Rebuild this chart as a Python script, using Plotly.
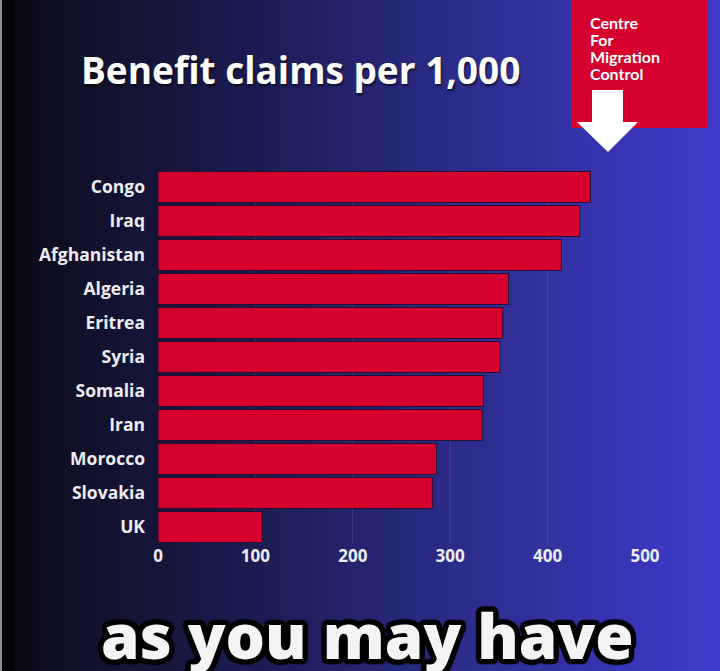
import plotly.graph_objects as go

countries = ["Congo", "Iraq", "Afghanistan", "Algeria", "Eritrea", "Syria",
             "Somalia", "Iran", "Morocco", "Slovakia", "UK"]
claims_per_1000 = [444, 433, 414, 360, 354, 351, 334, 333, 286, 282, 107]
x_ticks = [0, 100, 200, 300, 400, 500]
title_text = "Benefit claims per 1,000"
logo_lines = ["Centre", "For", "Migration", "Control"]
caption_text = "as you may have"

W, H = 720, 671
L, R, T, B = 158, 75, 170, 127
PW, PH = W - L - R, H - T - B


def px(x):
    return (x - L) / PW


def py(y):
    return (H - B - y) / PH


# background gradient stops (pixel x, rgb)
stops = [(0, (8, 8, 14)), (40, (14, 14, 30)), (150, (21, 21, 58)),
         (300, (31, 31, 94)), (450, (43, 43, 136)), (560, (50, 50, 164)),
         (650, (58, 54, 188)), (720, (63, 60, 204))]


def col_at(x):
    for (x0, c0), (x1, c1) in zip(stops, stops[1:]):
        if x0 <= x <= x1:
            t = (x - x0) / (x1 - x0)
            return "rgb(%d,%d,%d)" % tuple(round(a + (b - a) * t) for a, b in zip(c0, c1))
    return "rgb(%d,%d,%d)" % stops[-1][1]


shapes = []
step = 8
for xs in range(0, W, step):
    shapes.append(dict(type="rect", xref="paper", yref="paper", layer="below",
                       x0=px(xs), x1=px(xs + step + 1), y0=py(H), y1=py(0),
                       fillcolor=col_at(xs + step / 2), line=dict(width=0)))
shapes.append(dict(type="rect", xref="paper", yref="paper", layer="below",
                   x0=px(0), x1=px(2), y0=py(H), y1=py(0),
                   fillcolor="#8c8ca0", line=dict(width=0)))
shapes.append(dict(type="rect", xref="paper", yref="paper", layer="below",
                   x0=px(2), x1=px(14), y0=py(H), y1=py(0),
                   fillcolor="#040408", line=dict(width=0)))

# logo box
shapes.append(dict(type="rect", xref="paper", yref="paper", layer="above",
                   x0=px(571), x1=px(707), y0=py(128), y1=py(-2),
                   fillcolor="#d5002d", line=dict(width=0)))
arrow_pts = [(592, 90), (623, 90), (623, 122), (638, 122), (608, 152),
             (577, 122), (592, 122)]
path = "M " + " L ".join("%f,%f" % (px(a), py(b)) for a, b in arrow_pts) + " Z"
shapes.append(dict(type="path", xref="paper", yref="paper", layer="above",
                   path=path, fillcolor="#ffffff", line=dict(width=0)))

fig = go.Figure(go.Bar(
    x=claims_per_1000, y=countries, orientation="h",
    marker=dict(color="#d5002e", line=dict(color="rgba(30,15,45,0.9)", width=1)),
    hoverinfo="x+y",
))

outline = ", ".join("%dpx %dpx 1px #000" % (a, b) for a, b in
                    [(-4, -4), (4, -4), (-4, 4), (4, 4), (0, 5), (0, -5), (5, 0), (-5, 0),
                     (-2, 5), (2, 5), (-2, -5), (2, -5), (5, 2), (5, -2), (-5, 2), (-5, -2)])

annotations = [
    dict(text="<b>" + title_text + "</b>", xref="paper", yref="paper",
         x=px(300), y=py(69), xanchor="center", yanchor="middle", showarrow=False,
         font=dict(family="Open Sans", size=37, color="#ffffff",
                   shadow="1px 2px 2px rgba(0,0,0,0.6)")),
    dict(text=caption_text, xref="paper", yref="paper",
         x=px(367), y=py(635), xanchor="center", yanchor="middle", showarrow=False,
         font=dict(family="Open Sans", size=62, color="#f4f4f4", weight=800,
                   shadow=outline)),
]
logo_y = [22, 40, 57, 73]
for line, yy in zip(logo_lines, logo_y):
    annotations.append(dict(text="<b>" + line + "</b>", xref="paper", yref="paper",
                            x=px(588), y=py(yy), xanchor="left", yanchor="middle",
                            showarrow=False,
                            font=dict(family="Lato", size=16, color="#ffffff")))

fig.update_layout(
    width=W, height=H,
    margin=dict(l=L, r=R, t=T, b=B, pad=0),
    paper_bgcolor="#15153a", plot_bgcolor="rgba(0,0,0,0)",
    showlegend=False, bargap=0.09,
    shapes=shapes, annotations=annotations,
    xaxis=dict(range=[0, 500], tickvals=x_ticks, showgrid=True,
               gridcolor="rgba(255,255,255,0.10)", gridwidth=1, zeroline=False,
               showline=False, ticks="", fixedrange=True,
               tickfont=dict(family="Open Sans", size=17, color="#ececf4", weight="bold")),
    yaxis=dict(autorange="reversed", showgrid=False, zeroline=False, showline=False,
               ticks="", ticklabelstandoff=12, fixedrange=True,
               tickfont=dict(family="Open Sans", size=17.5, color="#ececf4", weight="bold")),
)

fig.write_html("out.html", config={"displayModeBar": False},
               post_script="document.body.style.margin='0';document.body.style.overflow='hidden';")
